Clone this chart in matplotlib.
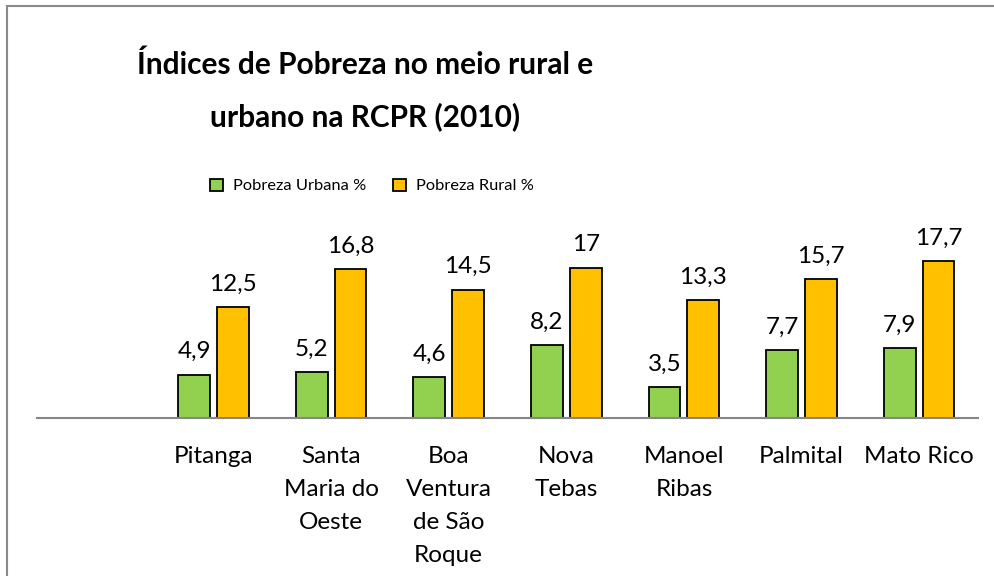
import matplotlib.pyplot as plt
import numpy as np
from matplotlib.patches import Rectangle

# --- dados ---
municipios = ["", "Pitanga", "Santa\nMaria do\nOeste", "Boa\nVentura\nde São\nRoque",
              "Nova\nTebas", "Manoel\nRibas", "Palmital", "Mato Rico"]
pobreza_urbana = [np.nan, 4.9, 5.2, 4.6, 8.2, 3.5, 7.7, 7.9]
pobreza_rural = [np.nan, 12.5, 16.8, 14.5, 17, 13.3, 15.7, 17.7]
rotulo_urbana = "Pobreza Urbana %"
rotulo_rural = "Pobreza Rural %"
titulo = "Índices de Pobreza no meio rural e\nurbano na RCPR (2010)"

VERDE = "#92D050"
LARANJA = "#FFC000"
FONTE = "Lato"

W, H = 994, 576
fig = plt.figure(figsize=(W / 100, H / 100), dpi=100)

# moldura do gráfico (cortada à direita e embaixo)
fig.patches.append(Rectangle((7 / W, -0.1), 2, 1.1 - 6 / H, transform=fig.transFigure,
                             fill=False, edgecolor="#8a8a8a", lw=1.5))

# eixo: base em y=418, topo (20) em y=241, x de 37 a 978
ax = fig.add_axes([37 / W, (H - 418) / H, 941 / W, (418 - 241) / H])
x = np.arange(len(municipios))
larg = 0.27
desl = 0.165
b1 = ax.bar(x - desl, pobreza_urbana, larg, color=VERDE, edgecolor="black", lw=1.3,
            label=rotulo_urbana)
b2 = ax.bar(x + desl, pobreza_rural, larg, color=LARANJA, edgecolor="black", lw=1.3,
            label=rotulo_rural)

def fmt(v):
    return ("%g" % v).replace(".", ",")

for barras, vals in ((b1, pobreza_urbana), (b2, pobreza_rural)):
    for r, v in zip(barras, vals):
        if np.isnan(v):
            continue
        ax.annotate(fmt(v), (r.get_x() + r.get_width() / 2, v), xytext=(0, 9),
                    textcoords="offset points", ha="center", va="bottom",
                    fontsize=17.5, family=FONTE)

ax.set_xlim(-0.5, len(municipios) - 0.5)
ax.set_ylim(0, 20)
ax.set_yticks([])
ax.set_xticks(x)
ax.set_xticklabels(municipios, fontsize=17.5, family=FONTE, linespacing=1.7, va="top")
ax.tick_params(axis="x", length=0, pad=20.5)
for s in ("top", "right", "left"):
    ax.spines[s].set_visible(False)
ax.spines["bottom"].set_color("#868686")
ax.spines["bottom"].set_linewidth(1.5)
ax.patch.set_alpha(0)

fig.text(365 / W, 1 - 50 / H, titulo, ha="center", va="top", fontsize=21.5,
         fontweight="bold", family=FONTE, linespacing=2.0)

leg = fig.legend(handles=[b1, b2], loc="center", bbox_to_anchor=(372 / W, 1 - 186 / H),
                 ncol=2, frameon=False, prop={"family": FONTE, "size": 11.8},
                 handlelength=0.8, handleheight=0.8, columnspacing=1.6, handletextpad=0.6)

fig.savefig("out.png", dpi=100)
